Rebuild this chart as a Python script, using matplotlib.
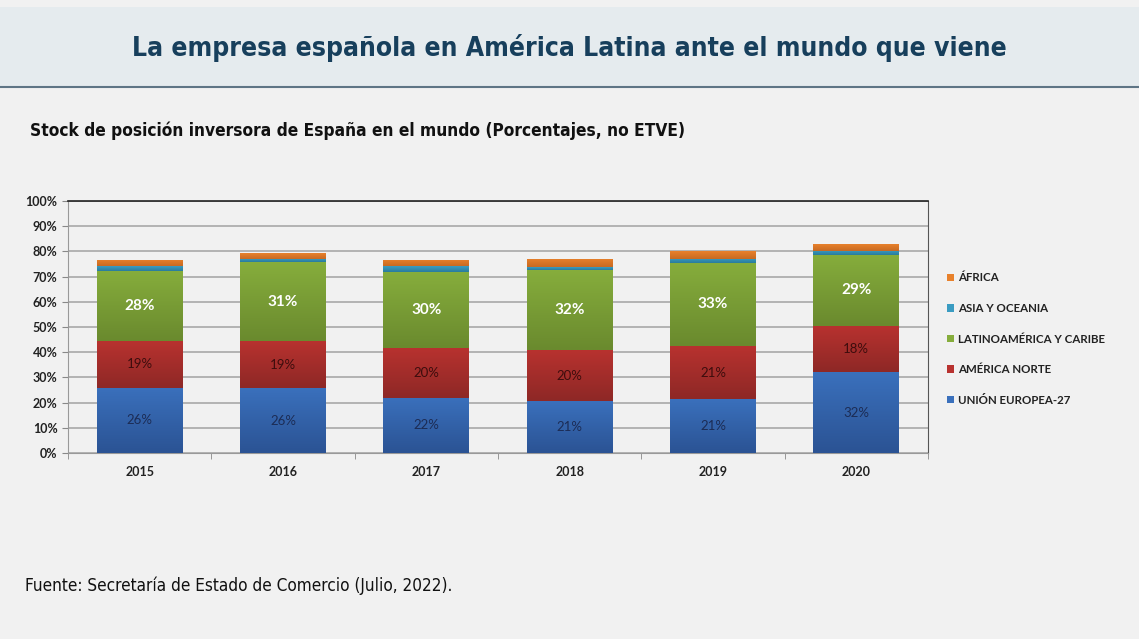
import matplotlib.pyplot as plt
import numpy as np
from matplotlib.colors import LinearSegmentedColormap
from matplotlib.ticker import FuncFormatter, FixedLocator

# stock de posicion inversora (%), lectura aproximada del grafico
years = ['2015', '2016', '2017', '2018', '2019', '2020']
ue27 = [25.9, 25.7, 21.9, 20.6, 21.3, 32.0]
america_norte = [18.5, 18.7, 19.9, 20.3, 21.2, 18.4]
latam = [27.9, 31.3, 30.1, 31.7, 33.0, 28.3]
asia = [1.9, 1.4, 2.3, 1.1, 1.6, 1.6]
africa = [2.4, 2.3, 2.4, 3.3, 2.9, 2.6]

label_ue = ['26%', '26%', '22%', '21%', '21%', '32%']
label_an = ['19%', '19%', '20%', '20%', '21%', '18%']
label_la = ['28%', '31%', '30%', '32%', '33%', '29%']

# nombre, valores, color arriba, color abajo (degradado como en Excel)
series = [
    ('UNIÓN EUROPEA-27', ue27, '#3a70bc', '#2b5394'),
    ('AMÉRICA NORTE', america_norte, '#b8322f', '#8e2826'),
    ('LATINOAMÉRICA Y CARIBE', latam, '#86ad3c', '#6a8a2e'),
    ('ASIA Y OCEANIA', asia, '#3a9cc2', '#2a7c9c'),
    ('ÁFRICA', africa, '#e8812c', '#c86a22'),
]

plt.rcParams['font.family'] = ['Lato', 'DejaVu Sans']
head_font = ['DejaVu Sans']

bg = '#f1f1f1'
fig = plt.figure(figsize=(11.39, 6.39), dpi=100, facecolor=bg)

# banda del titulo
band = fig.add_axes([0, 1 - 87 / 639, 1, 80 / 639])
band.set_axis_off()
band.add_patch(plt.Rectangle((0, 0), 1, 1, transform=band.transAxes,
                             color='#e5ebee', zorder=0))
fig.add_artist(plt.Line2D([0, 1], [1 - 87 / 639] * 2, color='#5e7585', lw=1.5))
fig.text(0.5, 1 - 48 / 639, 'La empresa española en América Latina ante el mundo que viene',
         ha='center', va='center', fontsize=19, fontweight='bold', fontstretch='condensed',
         family=head_font, color='#173f5c')

fig.text(30 / 1139, 1 - 131 / 639,
         'Stock de posición inversora de España en el mundo (Porcentajes, no ETVE)',
         ha='left', va='center', fontsize=12.4, fontweight='bold', fontstretch='condensed',
         family=head_font, color='#111111')

fig.text(25 / 1139, 1 - 586 / 639, 'Fuente: Secretaría de Estado de Comercio (Julio, 2022).',
         ha='left', va='center', fontsize=12.3, fontstretch='condensed',
         family=head_font, color='#111111')

ax = fig.add_axes([68 / 1139, 1 - 453 / 639, 860 / 1139, 252 / 639])
ax.set_facecolor(bg)
x = np.arange(len(years))
bottom = np.zeros(len(years))
bars = {}
grad = np.linspace(1, 0, 64).reshape(-1, 1)
for name, vals, top_col, bot_col in series:
    cont = ax.bar(x, vals, 0.6, bottom=bottom, color=top_col, label=name, zorder=3)
    cmap = LinearSegmentedColormap.from_list(name, [bot_col, top_col])
    for rect in cont:
        x0, y0 = rect.get_x(), rect.get_y()
        im = ax.imshow(grad, cmap=cmap, aspect='auto', zorder=3.1,
                       extent=[x0, x0 + rect.get_width(), y0, y0 + rect.get_height()])
        im.set_clip_path(rect)
    bars[name] = cont
    bottom += np.array(vals)

def add_labels(cont, labels, color, weight, size):
    for rect, lab in zip(cont, labels):
        ax.text(rect.get_x() + rect.get_width() / 2, rect.get_y() + rect.get_height() / 2,
                lab, ha='center', va='center', color=color, fontsize=size,
                fontweight=weight, zorder=4)

add_labels(bars['UNIÓN EUROPEA-27'], label_ue, '#1c2c55', 'normal', 9.5)
add_labels(bars['AMÉRICA NORTE'], label_an, '#3d0d0d', 'normal', 9.5)
add_labels(bars['LATINOAMÉRICA Y CARIBE'], label_la, 'white', 'bold', 11)

ax.set_xlim(-0.5, len(years) - 0.5)
ax.set_ylim(0, 100)
ax.yaxis.set_major_locator(FixedLocator(np.arange(0, 101, 10)))
ax.yaxis.set_major_formatter(FuncFormatter(lambda v, p: f'{v:.0f}%'))
ax.grid(axis='y', color='#a8a8a8', lw=1.2, zorder=0)
ax.set_xticks(x)
ax.set_xticklabels(years)
ax.set_xticks(np.arange(-0.5, len(years)), minor=True)
ax.tick_params(axis='x', which='major', length=0, pad=9, labelsize=9)
ax.tick_params(axis='x', which='minor', length=4, color='#888888', direction='out')
ax.tick_params(axis='y', length=4, color='#888888', labelsize=9)
for lab in ax.get_xticklabels() + ax.get_yticklabels():
    lab.set_fontweight('bold')
    lab.set_color('#222222')
ax.spines['top'].set_color('#222222')
ax.spines['top'].set_linewidth(1.2)
ax.spines['right'].set_color('#555555')
ax.spines['left'].set_color('#999999')
ax.spines['bottom'].set_color('#999999')

handles, labels = ax.get_legend_handles_labels()
leg = fig.legend(handles[::-1], labels[::-1], loc='upper left',
                 bbox_to_anchor=(937 / 1139, 1 - 262 / 639), frameon=False,
                 handlelength=0.6, handleheight=0.6, handletextpad=0.35,
                 labelspacing=1.7, prop={'weight': 'bold', 'size': 8.3})
for t in leg.get_texts():
    t.set_color('#222222')

fig.savefig('out.png', dpi=100, facecolor=bg)
